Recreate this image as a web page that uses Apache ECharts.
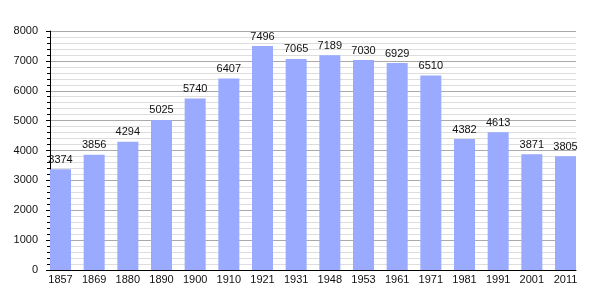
<!DOCTYPE html>
<html><head><meta charset="utf-8">
<script src="https://cdn.jsdelivr.net/npm/echarts@6/dist/echarts.min.js"></script>
<style>html,body{margin:0;padding:0;background:#fff}#c{width:605px;height:300px}</style>
</head><body><div id="c"></div>
<script>
const years = ['1857','1869','1880','1890','1900','1910','1921','1931','1948','1953','1961','1971','1981','1991','2001','2011'];
const population = [3374,3856,4294,5025,5740,6407,7496,7065,7189,7030,6929,6510,4382,4613,3871,3805];
const yMin = 0, yMax = 8000, yStep = 1000;

const font = 'Liberation Sans, Arial, sans-serif';
const chart = echarts.init(document.getElementById('c'), null, {renderer: 'canvas'});
chart.setOption({
  animation: false,
  backgroundColor: '#fff',
  grid: [
    {left: 50, right: 29, top: 31, bottom: 30},
    {left: 43.67, right: 22.67, top: 31, bottom: 30}
  ],
  xAxis: [
    {gridIndex: 0, type: 'category', data: years, boundaryGap: true,
     axisLine: {show: true, lineStyle: {color: '#000', width: 1}},
     axisTick: {show: false}, axisLabel: {show: false}, splitLine: {show: false}},
    {gridIndex: 1, type: 'category', data: years, boundaryGap: true,
     axisLine: {show: false}, axisTick: {show: false},
     axisLabel: {show: true, fontSize: 11, fontFamily: font, color: '#111', margin: 4, interval: 0},
     splitLine: {show: false}}
  ],
  yAxis: [
    {gridIndex: 0, type: 'value', min: yMin, max: yMax, interval: yStep,
     axisLine: {show: true, lineStyle: {color: '#000', width: 1}},
     axisTick: {show: true, length: 4, lineStyle: {color: '#000'}},
     minorTick: {show: true, splitNumber: 5, length: 3, lineStyle: {color: '#000'}},
     axisLabel: {fontSize: 11, fontFamily: font, color: '#111', margin: 12,
                 formatter: v => String(v)},
     splitLine: {show: true, lineStyle: {color: '#aaa', width: 1}},
     minorSplitLine: {show: true, lineStyle: {color: '#ddd', width: 1}}},
    {gridIndex: 1, type: 'value', min: yMin, max: yMax, interval: yStep, show: false,
     splitLine: {show: false}}
  ],
  series: [{
    type: 'bar', xAxisIndex: 1, yAxisIndex: 1, data: population,
    barWidth: 21,
    itemStyle: {color: '#99aaff'},
    label: {show: true, position: 'top', distance: 4, fontSize: 11, fontFamily: font, color: '#111'}
  }]
});
</script></body></html>
